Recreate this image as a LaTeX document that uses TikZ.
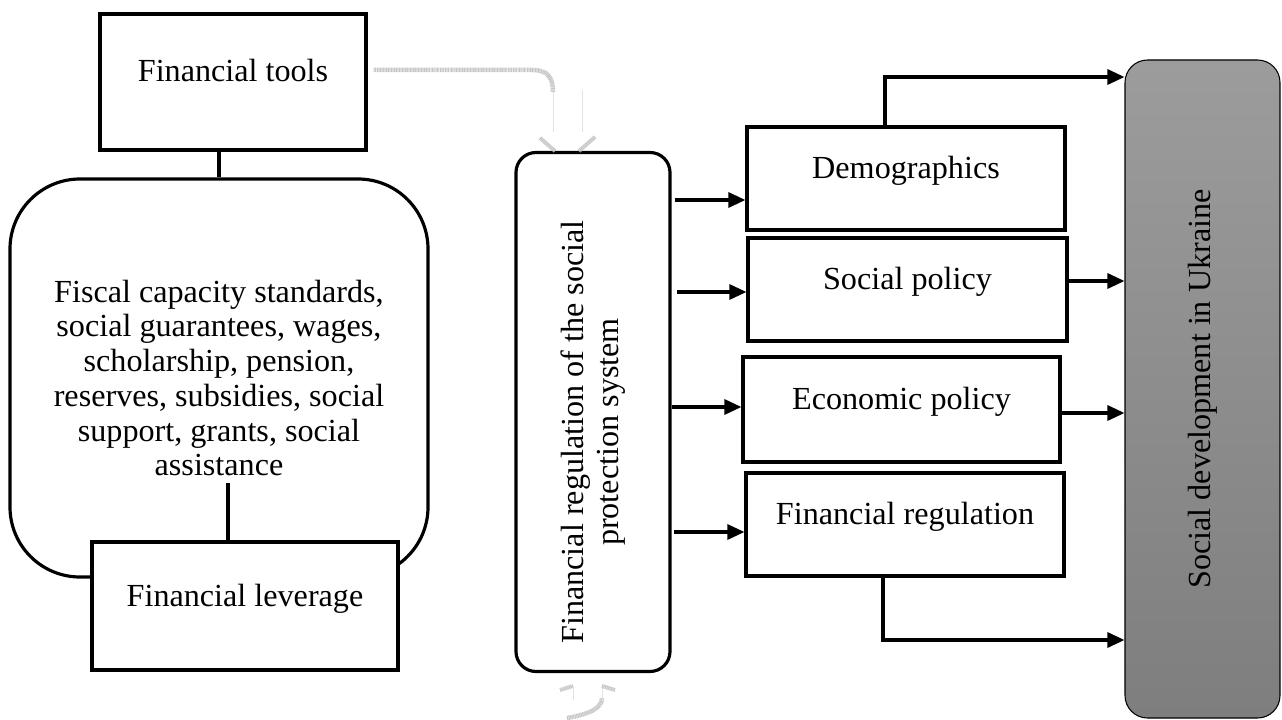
\documentclass[tikz,border=0pt]{standalone}
\usepackage{fontspec}
\setmainfont{Liberation Serif}
\usetikzlibrary{arrows.meta,positioning,calc}
\definecolor{sidetop}{RGB}{156,156,156}
\definecolor{sidebottom}{RGB}{126,126,126}
\tikzset{
  box/.style={rectangle, draw=black, line width=1.8pt, fill=white,
              align=center, text height=13pt, text depth=13pt, inner sep=2pt},
  panel/.style={rectangle, draw=black, line width=1.8pt, fill=white,
                align=center, inner sep=2pt},
  arrow/.style={-{Triangle[length=3.4mm,width=3mm]}, line width=1.8pt},
  link/.style={line width=1.9pt},
  ghostband/.style={gray!45, line width=0.9mm, dash pattern=on 0.6pt off 0.3pt},
  ghostline/.style={gray!22, line width=0.4pt},
  ghosthead/.style={gray!45, line width=0.8mm, dash pattern=on 0.6pt off 0.3pt},
  every node/.style={font=\fontsize{18.3}{19.8}\selectfont},
}
\begin{document}
\begin{tikzpicture}[x=0.2mm, y=-0.2mm]
  \useasboundingbox (0,0) rectangle (1282,720);
  % left column
  \node[box, minimum width=53.2mm, minimum height=27.2mm] (tools) at (233,82) {Financial tools};
  \node[panel, rounded corners=14mm, minimum width=83.6mm, minimum height=79.6mm] (instr) at (219,378)
    {Fiscal capacity standards,\\social guarantees, wages,\\scholarship, pension,\\reserves, subsidies, social\\support, grants, social\\assistance};
  \node[box, minimum width=61.2mm, minimum height=25.6mm] (lever) at (245,606) {Financial leverage};
  \draw[link] (instr.north) -- (instr.north |- tools.south);
  \draw[link] (lever.north -| 228,0) -- ++(0,-57);
  % centre
  \node[panel, rounded corners=4mm, minimum width=30.8mm, minimum height=103.8mm,
        label={[rotate=90, align=center, xshift=-4mm]center:Financial regulation of the social\\protection system}] (fin) at (593,412) {};
  % right column
  \node[box, minimum width=63.6mm, minimum height=20.6mm] (demo) at (906,178.5) {Demographics};
  \node[box, minimum width=63.8mm, minimum height=20.6mm] (soc) at (907.5,289.5) {Social policy};
  \node[box, minimum width=63.4mm, minimum height=21mm] (econ) at (901.5,409.5) {Economic policy};
  \node[box, minimum width=63.6mm, minimum height=20.6mm] (freg) at (905,524.5) {Financial regulation};
  \node[panel, rounded corners=4.5mm, line width=0.6pt, top color=sidetop, bottom color=sidebottom,
        minimum width=31mm, minimum height=131.6mm,
        label={[rotate=90]center:Social development in Ukraine}] (ukr) at (1202.5,389) {};
  % arrows
  \draw[arrow] ([xshift=0.6mm]fin.east |- 0,200) -- (demo.west |- 0,200);
  \draw[arrow] ([xshift=1mm]fin.east |- 0,292) -- (soc.west |- 0,292);
  \draw[arrow] (fin.east |- 0,407) -- (econ.west |- 0,407);
  \draw[arrow] ([xshift=0.4mm]fin.east |- 0,532) -- (freg.west |- 0,532);
  \draw[arrow] (demo.north -| 885,0) |- (ukr.west |- 0,77);
  \draw[arrow] (soc.east |- 0,281) -- (ukr.west |- 0,281);
  \draw[arrow] (econ.east |- 0,413) -- (ukr.west |- 0,413);
  \draw[arrow] (freg.south -| 883,0) |- (ukr.west |- 0,640);
  % faint block arrows
  \coordinate (topend) at (553,92);
  \coordinate (botstart) at (567,718);
  \draw[ghostband] ($(tools.east |- 0,70)+(6,0)$) -- (533,70) .. controls (548,70) and (553,78) .. (topend);
  \draw[ghostline] (topend) -- (553,132);
  \draw[ghostline] (582,90) -- (582,132);
  \draw[ghosthead] (540,138) -- (555,151);
  \draw[ghosthead] (595,137) -- (579,151);
  \draw[ghostband] (botstart) .. controls (590,714) and (602,708) .. (602,698);
  \draw[ghostline] (573,700) -- (573,688);
  \draw[ghostline] (602,700) -- (602,688);
  \draw[ghosthead] (560,690) -- (573,686);
  \draw[ghosthead] (602,686) -- (615,690);
\end{tikzpicture}
\end{document}
